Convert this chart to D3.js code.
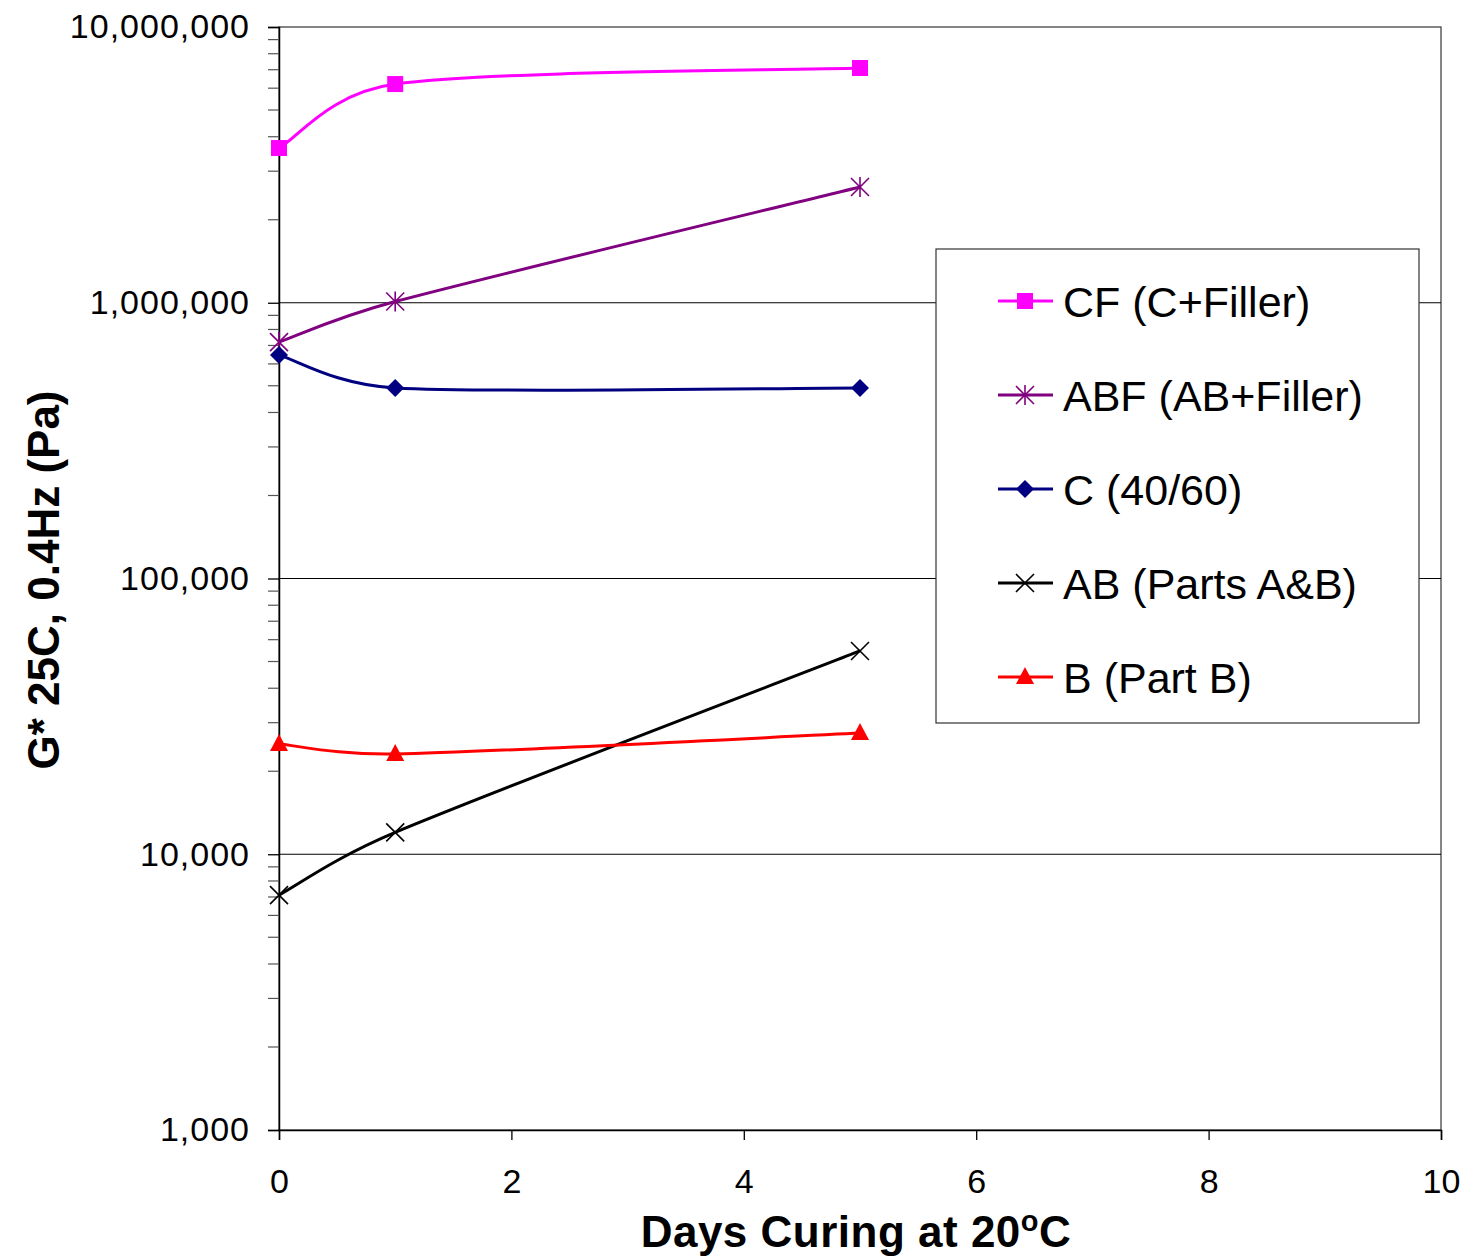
<!DOCTYPE html>
<html><head><meta charset="utf-8">
<script src="https://cdn.jsdelivr.net/npm/d3@7"></script>
<style>body{margin:0;background:#fff}svg{display:block}</style>
</head><body>
<svg id="chart" width="1467" height="1259"></svg>
<script>
const days = [0, 1, 5];
const seriesNames = ["CF (C+Filler)", "ABF (AB+Filler)", "C (40/60)", "AB (Parts A&B)", "B (Part B)"];
const cfValues  = [3640000, 6210000, 7100000];
const abfValues = [720000, 1010000, 2630000];
const cValues   = [646000, 491000, 491000];
const abValues  = [7110, 12000, 54600];
const bValues   = [25100, 23100, 27500];
const seriesColors = ["#FF00FF", "#800080", "#000080", "#000000", "#FF0000"];
const seriesMarkers = ["square", "asterisk", "diamond", "cross", "triangle"];
const yTickValues = [1000, 10000, 100000, 1000000, 10000000];
const xTickValues = [0, 2, 4, 6, 8, 10];

const seriesValues = [cfValues, abfValues, cValues, abValues, bValues];
const FONT = "Liberation Sans, Arial, sans-serif";

const svg = d3.select("#chart");
const L = 279, R = 1441, T = 27, B = 1130;
const x = d3.scaleLinear().domain([0, 10]).range([L, R]);
const y = d3.scaleLog().domain([1000, 10000000]).range([B, T]);
const fmt = d3.format(",");

// plot border
svg.append("rect").attr("x", L).attr("y", T).attr("width", R - L).attr("height", B - T)
  .attr("fill", "none").attr("stroke", "#444").attr("stroke-width", 1.3);

// gridlines
svg.append("g").selectAll("line").data(yTickValues.slice(1, -1)).join("line")
  .attr("x1", L).attr("x2", R).attr("y1", d => y(d)).attr("y2", d => y(d))
  .attr("stroke", "#000").attr("stroke-width", 1.2);

// y axis
const minor = [];
for (let e = 3; e < 7; e++) for (let m = 2; m <= 9; m++) minor.push(m * Math.pow(10, e));
const yAxis = d3.axisLeft(y).tickValues(yTickValues).tickFormat(fmt).tickSize(11).tickPadding(18);
const gy = svg.append("g").attr("transform", `translate(${L},0)`).call(yAxis);
gy.select(".domain").attr("stroke", "#000").attr("stroke-width", 1.5);
gy.selectAll(".tick line").attr("stroke", "#000").attr("stroke-width", 1.3);
gy.selectAll(".tick text").attr("font-family", FONT).attr("font-size", 34)
  .attr("letter-spacing", 1).attr("fill", "#000");
svg.append("g").selectAll("line").data(minor).join("line")
  .attr("x1", L - 11).attr("x2", L).attr("y1", d => y(d)).attr("y2", d => y(d))
  .attr("stroke", "#555").attr("stroke-width", 1.2);

// x axis
const xAxis = d3.axisBottom(x).tickValues(xTickValues).tickFormat(d3.format("d")).tickSize(10).tickPadding(29);
const gx = svg.append("g").attr("transform", `translate(0,${B})`).call(xAxis);
gx.select(".domain").attr("stroke", "#000").attr("stroke-width", 1.5);
gx.selectAll(".tick line").attr("stroke", "#000").attr("stroke-width", 1.3);
gx.selectAll(".tick text").attr("font-family", FONT).attr("font-size", 34).attr("fill", "#000");

// axis titles
svg.append("text").attr("transform", `translate(59,580) rotate(-90)`)
  .attr("text-anchor", "middle").attr("font-family", FONT)
  .attr("font-weight", "bold").attr("font-size", 44).attr("fill", "#000")
  .text("G* 25C, 0.4Hz (Pa)");
const xt = svg.append("text").attr("x", 856).attr("y", 1247)
  .attr("text-anchor", "middle").attr("font-family", FONT).attr("letter-spacing", 0.5)
  .attr("font-weight", "bold").attr("font-size", 44).attr("fill", "#000");
xt.append("tspan").text("Days Curing at 20");
xt.append("tspan").attr("font-size", 29).attr("dy", -16).text("o");
xt.append("tspan").attr("dy", 16).text("C");

// markers
function drawMarker(g, type, color, cx, cy) {
  if (type === "square") {
    g.append("rect").attr("x", cx - 8).attr("y", cy - 8).attr("width", 16).attr("height", 16).attr("fill", color);
  } else if (type === "diamond") {
    g.append("path").attr("d", `M${cx},${cy - 9}L${cx + 9},${cy}L${cx},${cy + 9}L${cx - 9},${cy}Z`).attr("fill", color);
  } else if (type === "triangle") {
    g.append("path").attr("d", `M${cx},${cy - 10}L${cx + 9},${cy + 7}L${cx - 9},${cy + 7}Z`).attr("fill", color);
  } else if (type === "cross") {
    g.append("path").attr("d", `M${cx - 9},${cy - 9}L${cx + 9},${cy + 9}M${cx - 9},${cy + 9}L${cx + 9},${cy - 9}`)
      .attr("stroke", color).attr("stroke-width", 1.6).attr("fill", "none");
  } else if (type === "asterisk") {
    g.append("path").attr("d", `M${cx - 9},${cy - 9}L${cx + 9},${cy + 9}M${cx - 9},${cy + 9}L${cx + 9},${cy - 9}M${cx},${cy - 10}L${cx},${cy + 10}`)
      .attr("stroke", color).attr("stroke-width", 1.6).attr("fill", "none");
  }
}

// Excel-style smoothed line: Bezier with tension 1/6, arms limited to half the segment
function smoothPath(pts) {
  const P = pts.map(p => [x(p[0]), y(p[1])]);
  const n = P.length;
  const dist = (a, b) => Math.hypot(b[0] - a[0], b[1] - a[1]);
  let d = `M${P[0][0]},${P[0][1]}`;
  for (let i = 0; i < n - 1; i++) {
    const p0 = P[Math.max(0, i - 1)], p1 = P[i], p2 = P[i + 1], p3 = P[Math.min(n - 1, i + 2)];
    const d12 = dist(p1, p2);
    let t1 = [(p2[0] - p0[0]) / 6, (p2[1] - p0[1]) / 6];
    let t2 = [(p3[0] - p1[0]) / 6, (p3[1] - p1[1]) / 6];
    const l1 = Math.hypot(t1[0], t1[1]), l2 = Math.hypot(t2[0], t2[1]);
    if (l1 > d12 / 2) { t1 = [t1[0] * d12 / 2 / l1, t1[1] * d12 / 2 / l1]; }
    if (l2 > d12 / 2) { t2 = [t2[0] * d12 / 2 / l2, t2[1] * d12 / 2 / l2]; }
    d += `C${p1[0] + t1[0]},${p1[1] + t1[1]} ${p2[0] - t2[0]},${p2[1] - t2[1]} ${p2[0]},${p2[1]}`;
  }
  return d;
}

seriesValues.forEach((vals, i) => {
  const pts = days.map((d, j) => [d, vals[j]]);
  const g = svg.append("g");
  g.append("path").attr("d", smoothPath(pts)).attr("fill", "none")
    .attr("stroke", seriesColors[i]).attr("stroke-width", 3);
  pts.forEach(p => drawMarker(g, seriesMarkers[i], seriesColors[i], x(p[0]), y(p[1])));
});

// legend
const lg = svg.append("g");
lg.append("rect").attr("x", 936).attr("y", 249).attr("width", 483).attr("height", 474)
  .attr("fill", "#fff").attr("stroke", "#333").attr("stroke-width", 1.2);
seriesNames.forEach((name, i) => {
  const cy = 301 + i * 94;
  lg.append("line").attr("x1", 998).attr("x2", 1053).attr("y1", cy).attr("y2", cy)
    .attr("stroke", seriesColors[i]).attr("stroke-width", 3);
  drawMarker(lg, seriesMarkers[i], seriesColors[i], 1025, cy);
  lg.append("text").attr("x", 1063).attr("y", cy + 16).attr("font-family", FONT)
    .attr("font-size", 43).attr("fill", "#000").text(name);
});
</script>
</body></html>
